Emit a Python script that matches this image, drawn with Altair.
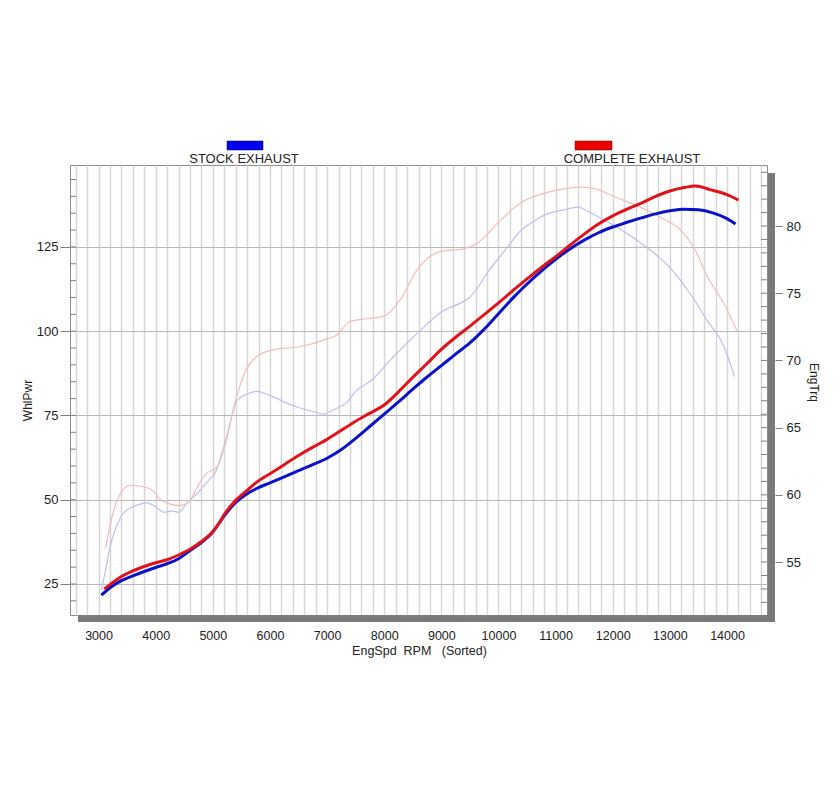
import altair as alt
import pandas as pd

FONT = "Liberation Sans"

# ---------------- data ----------------
series_names = ["STOCK EXHAUST", "COMPLETE EXHAUST"]

rpm_stock_hp = [3050, 3200, 3400, 3600, 3800, 4000, 4200, 4400, 4600, 4800, 5000, 5100, 5200, 5400,
                5600, 5800, 6000, 6250, 6500, 6750, 7000, 7250, 7500, 7750, 8000, 8250, 8500, 8750,
                9000, 9250, 9500, 9750, 10000, 10250, 10500, 10750, 11000, 11250, 11500, 11750,
                12000, 12250, 12500, 12750, 13000, 13250, 13500, 13750, 14000, 14150]
hp_stock = [21.7, 23.9, 26.0, 27.4, 28.7, 29.9, 31.0, 32.5, 34.9, 37.3, 40.4, 42.8, 45.2, 49.2,
            51.8, 53.6, 55.0, 56.8, 58.6, 60.4, 62.3, 64.9, 68.2, 71.8, 75.4, 79.0, 82.8, 86.4,
            89.8, 93.2, 96.5, 100.6, 105.2, 109.8, 114.0, 117.8, 121.3, 124.4, 127.0, 129.2,
            130.9, 132.3, 133.6, 134.8, 135.7, 136.2, 136.0, 135.1, 133.4, 131.8]

rpm_complete_hp = [3100, 3200, 3400, 3600, 3800, 4000, 4200, 4400, 4600, 4800, 5000, 5100, 5200, 5400,
                   5600, 5800, 6000, 6250, 6500, 6750, 7000, 7250, 7500, 7750, 8000, 8250, 8500, 8750,
                   9000, 9250, 9500, 9750, 10000, 10250, 10500, 10750, 11000, 11250, 11500, 11750,
                   12000, 12250, 12500, 12750, 13000, 13250, 13450, 13700, 14000, 14200]
hp_complete = [23.5, 24.8, 27.2, 28.9, 30.2, 31.3, 32.2, 33.6, 35.3, 37.6, 40.6, 42.8, 45.6, 49.8,
               52.8, 55.6, 57.7, 60.4, 63.1, 65.6, 67.9, 70.6, 73.3, 75.7, 78.1, 82.0, 86.3, 90.4,
               94.6, 98.2, 101.5, 104.9, 108.4, 112.0, 115.5, 118.9, 122.1, 125.5, 128.8, 131.8,
               134.2, 136.2, 138.0, 140.0, 141.6, 142.6, 143.1, 142.0, 140.5, 138.9]

rpm_stock_tq = [3050, 3150, 3200, 3300, 3430, 3650, 3850, 4000, 4150, 4280, 4400, 4550, 4770, 4950,
                5060, 5150, 5240, 5330, 5420, 5600, 5770, 6000, 6250, 6500, 6750, 6950, 7050, 7200,
                7350, 7500, 7800, 8100, 8400, 8700, 9000, 9350, 9500, 9650, 9800, 10000, 10150,
                10400, 10600, 10800, 11150, 11380, 11650, 12000, 12300, 12600, 13000, 13350, 13650,
                13950, 14130]
tq_stock = [52.9, 55.0, 56.1, 57.5, 58.6, 59.2, 59.4, 59.1, 58.7, 58.8, 58.7, 59.4, 60.3, 61.2,
            61.8, 63.0, 64.3, 65.8, 67.0, 67.5, 67.7, 67.4, 66.9, 66.5, 66.2, 66.0, 66.2, 66.5,
            66.9, 67.7, 68.6, 70.0, 71.3, 72.5, 73.6, 74.3, 74.7, 75.5, 76.5, 77.6, 78.4,
            79.7, 80.3, 80.8, 81.2, 81.4, 80.9, 80.1, 79.3, 78.4, 76.9, 75.0, 73.0,
            71.0, 68.8]

rpm_complete_tq = [3120, 3250, 3400, 3550, 3780, 3950, 4070, 4190, 4420, 4600, 4770, 4890, 5060, 5210,
                   5360, 5530, 5770, 6060, 6500, 7000, 7170, 7400, 7700, 8000, 8280, 8570, 8980, 9390,
                   9620, 10030, 10380, 10850, 11200, 11420, 11670, 12020, 12430, 12900, 13190, 13420,
                   13660, 13950, 14185]
tq_complete = [56.0, 58.6, 60.2, 60.7, 60.6, 60.3, 59.7, 59.4, 59.2, 59.6, 60.9, 61.6, 62.0, 63.6,
               66.4, 68.8, 70.3, 70.8, 71.0, 71.6, 71.9, 72.9, 73.1, 73.3, 74.5, 76.7, 78.1, 78.3,
               78.7, 80.4, 81.7, 82.5, 82.8, 82.9, 82.8, 82.2, 81.5, 80.5, 79.7, 78.4,
               76.2, 74.2, 72.1]

x_grid_values = list(range(2600, 14700, 200))
hp_major_ticks = [25, 50, 75, 100, 125]
hp_minor_ticks = list(range(20, 150, 5))
tq_major_ticks = [55, 60, 65, 70, 75, 80]
tq_minor_ticks = list(range(52, 85, 1))

# ---------------- styling ----------------
BLUE = "#0a12c8"
RED = "#e0121a"
LIGHT_BLUE = "#bcc0ea"
LIGHT_RED = "#f3bcbc"
TXT = "#222222"
TICK = "#808080"

x_scale = alt.Scale(domain=[2500, 14700], nice=False, zero=False)
hp_scale = alt.Scale(domain=[15.8, 149.3], nice=False, zero=False)
tq_scale = alt.Scale(domain=[51.06, 84.54], nice=False, zero=False)

x_axis = alt.Axis(
    values=x_grid_values, format="d",
    labelExpr="datum.value % 1000 === 0 ? datum.label : ''",
    labelOverlap=False, labelFlush=False, grid=True, gridColor="#d6d6d6", gridWidth=1.5,
    ticks=False, domain=False, labelPadding=14, labelFont=FONT, labelFontSize=12.5, labelColor=TXT,
    title="EngSpd\u00a0\u00a0RPM\u00a0\u00a0\u00a0(Sorted)", titleFont=FONT, titleFontSize=12.5,
    titleFontWeight="normal", titleColor=TXT, titleX=349, titleY=35, titleBaseline="middle",
    titleAlign="center",
)

hp_axis = alt.Axis(
    orient="left", values=hp_major_ticks,
    labelOverlap=False, labelFlush=False, grid=True, gridColor="#b8b8b8", gridWidth=1,
    domain=False, tickSize=10, tickColor=TICK, tickWidth=1, labelPadding=2,
    labelFont=FONT, labelFontSize=13, labelColor=TXT,
    title="WhlPwr", titleFont=FONT, titleFontSize=12, titleFontWeight="normal", titleColor=TXT,
    titleX=-43, titleY=235, titleAngle=270, titleBaseline="middle", titleAlign="center",
)

tq_axis = alt.Axis(
    orient="right", values=tq_major_ticks, offset=8,
    labelOverlap=False, labelFlush=False, grid=False,
    domain=False, tickSize=7, tickColor=TICK, tickWidth=1, labelPadding=4,
    labelFont=FONT, labelFontSize=13, labelColor=TXT,
    title="EngTrq", titleFont=FONT, titleFontSize=12, titleFontWeight="normal", titleColor=TXT,
    titleX=38, titleY=217, titleAngle=90, titleBaseline="middle", titleAlign="center",
)


def line(rpm, vals, color, width, y_scale, y_axis):
    df = pd.DataFrame({"rpm": rpm, "v": vals})
    return alt.Chart(df).mark_line(color=color, strokeWidth=width, interpolate="monotone").encode(
        x=alt.X("rpm:Q", scale=x_scale, axis=x_axis),
        y=alt.Y("v:Q", scale=y_scale, axis=y_axis),
    )


def minor_ticks(vals, y_scale, y_axis, x0, x1):
    df = pd.DataFrame({"v": vals})
    return alt.Chart(df).mark_rule(color=TICK, strokeWidth=1).encode(
        y=alt.Y("v:Q", scale=y_scale, axis=y_axis),
        x=alt.value(x0), x2=alt.value(x1),
    )


power = alt.layer(
    minor_ticks(hp_minor_ticks, hp_scale, hp_axis, 0, 6),
    line(rpm_stock_hp, hp_stock, BLUE, 3, hp_scale, hp_axis),
    line(rpm_complete_hp, hp_complete, RED, 3, hp_scale, hp_axis),
)
torque = alt.layer(
    minor_ticks(tq_minor_ticks, tq_scale, tq_axis, 691, 697),
    line(rpm_stock_tq, tq_stock, LIGHT_BLUE, 1.2, tq_scale, tq_axis),
    line(rpm_complete_tq, tq_complete, LIGHT_RED, 1.2, tq_scale, tq_axis),
)

one = pd.DataFrame({"k": [0]})

shadow_right = alt.Chart(one).mark_rect(color="#7a7a7a").encode(
    x=alt.value(698), x2=alt.value(705), y=alt.value(8), y2=alt.value(457))
shadow_bottom = alt.Chart(one).mark_rect(color="#7a7a7a").encode(
    x=alt.value(8), x2=alt.value(705), y=alt.value(450), y2=alt.value(457))

leg_df = pd.DataFrame({"name": series_names})
leg_stock_rect = alt.Chart(leg_df.iloc[[0]]).mark_rect(color="#0000ee", stroke="#1a1a60", strokeWidth=0.6).encode(
    x=alt.value(157), x2=alt.value(193), y=alt.value(-24), y2=alt.value(-15))
leg_stock_text = alt.Chart(leg_df.iloc[[0]]).mark_text(font=FONT, fontSize=13, color=TXT, align="center",
                                                       baseline="middle").encode(
    x=alt.value(174), y=alt.value(-6), text="name:N")
leg_comp_rect = alt.Chart(leg_df.iloc[[1]]).mark_rect(color="#ee0000", stroke="#601a1a", strokeWidth=0.6).encode(
    x=alt.value(505), x2=alt.value(542), y=alt.value(-24), y2=alt.value(-15))
leg_comp_text = alt.Chart(leg_df.iloc[[1]]).mark_text(font=FONT, fontSize=13, color=TXT, align="center",
                                                      baseline="middle").encode(
    x=alt.value(562), y=alt.value(-6), text="name:N")

chart = alt.layer(
    torque, power,
    shadow_right, shadow_bottom,
    leg_stock_rect, leg_stock_text, leg_comp_rect, leg_comp_text,
).resolve_scale(y="independent").properties(
    width=697, height=450,
    autosize=alt.AutoSizeParams(type="none"),
    padding={"left": 70, "top": 165, "right": 73, "bottom": 185},
    background="white",
).configure_view(stroke="#8c8c8c", strokeWidth=1)

chart.save("out.html", embed_options={"renderer": "svg", "actions": False})
